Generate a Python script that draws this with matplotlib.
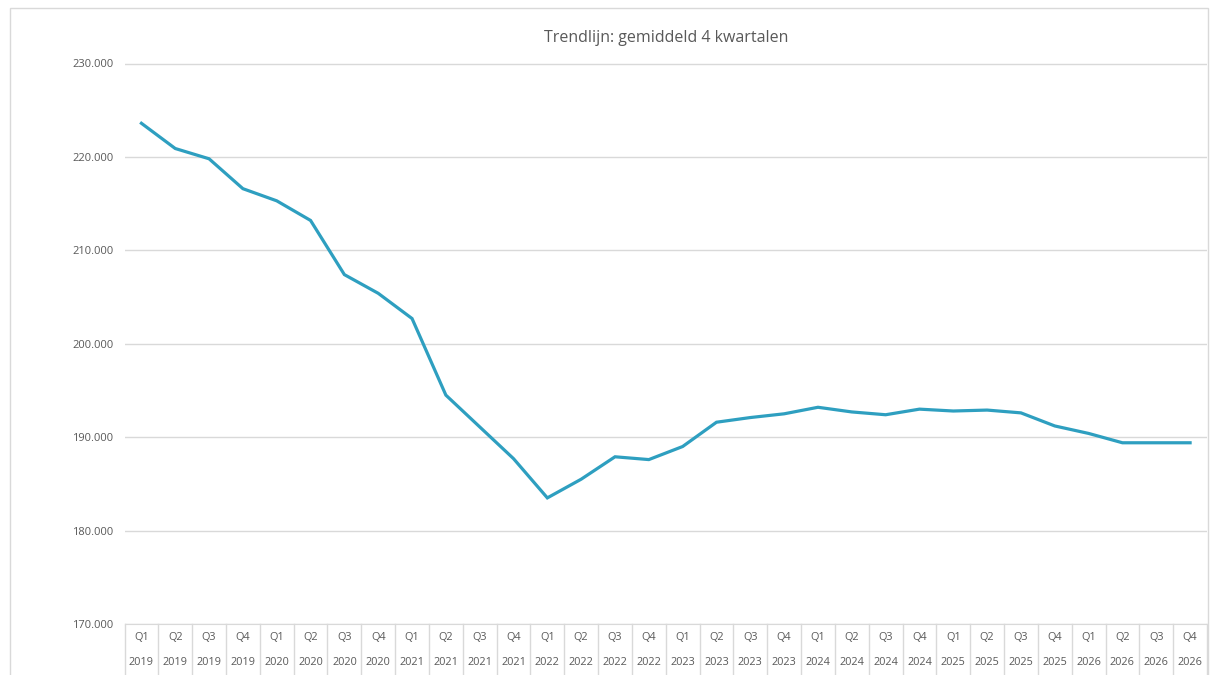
import matplotlib.pyplot as plt
from matplotlib.patches import Rectangle

# ---- data ----
quarters = ["Q1", "Q2", "Q3", "Q4"] * 8
years = [str(y) for y in range(2019, 2027) for _ in range(4)]
trend = [
    223.6, 220.9, 219.8, 216.6, 215.3, 213.2, 207.4, 205.4,
    202.7, 194.5, 191.1, 187.7, 183.5, 185.5, 187.9, 187.6,
    189.0, 191.6, 192.1, 192.5, 193.2, 192.7, 192.4, 193.0,
    192.8, 192.9, 192.6, 191.2, 190.4, 189.4, 189.4, 189.4,
]
y_ticks = [170, 180, 190, 200, 210, 220, 230]
title = "Trendlijn: gemiddeld 4 kwartalen"

TXT = "#595959"
GRID = "#D9D9D9"
LINE = "#2E9FC0"

plt.rcParams["font.family"] = ["Open Sans", "DejaVu Sans"]

W, H = 1214, 675
fig = plt.figure(figsize=(W / 100, H / 100), dpi=100)
ax = fig.add_axes([124.5 / W, 1 - 624 / H, (1207 - 124.5) / W, (624 - 63.5) / H])

# outer chart border
fig.patches.append(Rectangle((9.5 / W, -0.05), (1208 - 9.5) / W, 1.05 - 8 / H,
                             transform=fig.transFigure, fill=False,
                             edgecolor=GRID, linewidth=1))

x = list(range(len(trend)))
ax.plot(x, trend, color=LINE, linewidth=2.3, solid_joinstyle="miter", zorder=3)

ax.set_xlim(-0.5, len(trend) - 0.5)
ax.set_ylim(y_ticks[0], y_ticks[-1])
ax.set_yticks(y_ticks)
ax.set_yticklabels([f"{v}.000" for v in y_ticks], fontsize=8, color=TXT)
ax.tick_params(axis="y", length=0, pad=8)
ax.set_xticks([])
ax.grid(axis="y", color=GRID, linewidth=1)
for side in ["top", "right", "left"]:
    ax.spines[side].set_visible(False)
ax.spines["bottom"].set_color(GRID)

# two-level category axis
tr = ax.get_xaxis_transform()
for i in range(len(trend) + 1):
    ax.plot([i - 0.5, i - 0.5], [0, -0.12], transform=tr, color=GRID,
            linewidth=1, clip_on=False)
for i, (q, yr) in enumerate(zip(quarters, years)):
    ax.text(i, -0.024, q, transform=tr, ha="center", va="center",
            fontsize=7.8, color=TXT)
    ax.text(i, -0.068, yr, transform=tr, ha="center", va="center",
            fontsize=7.8, color=TXT)

fig.text((124.5 + 1207) / 2 / W, 1 - 38 / H, title, ha="center", va="center",
         fontsize=11.5, color=TXT)

fig.savefig("out.png", dpi=100)
